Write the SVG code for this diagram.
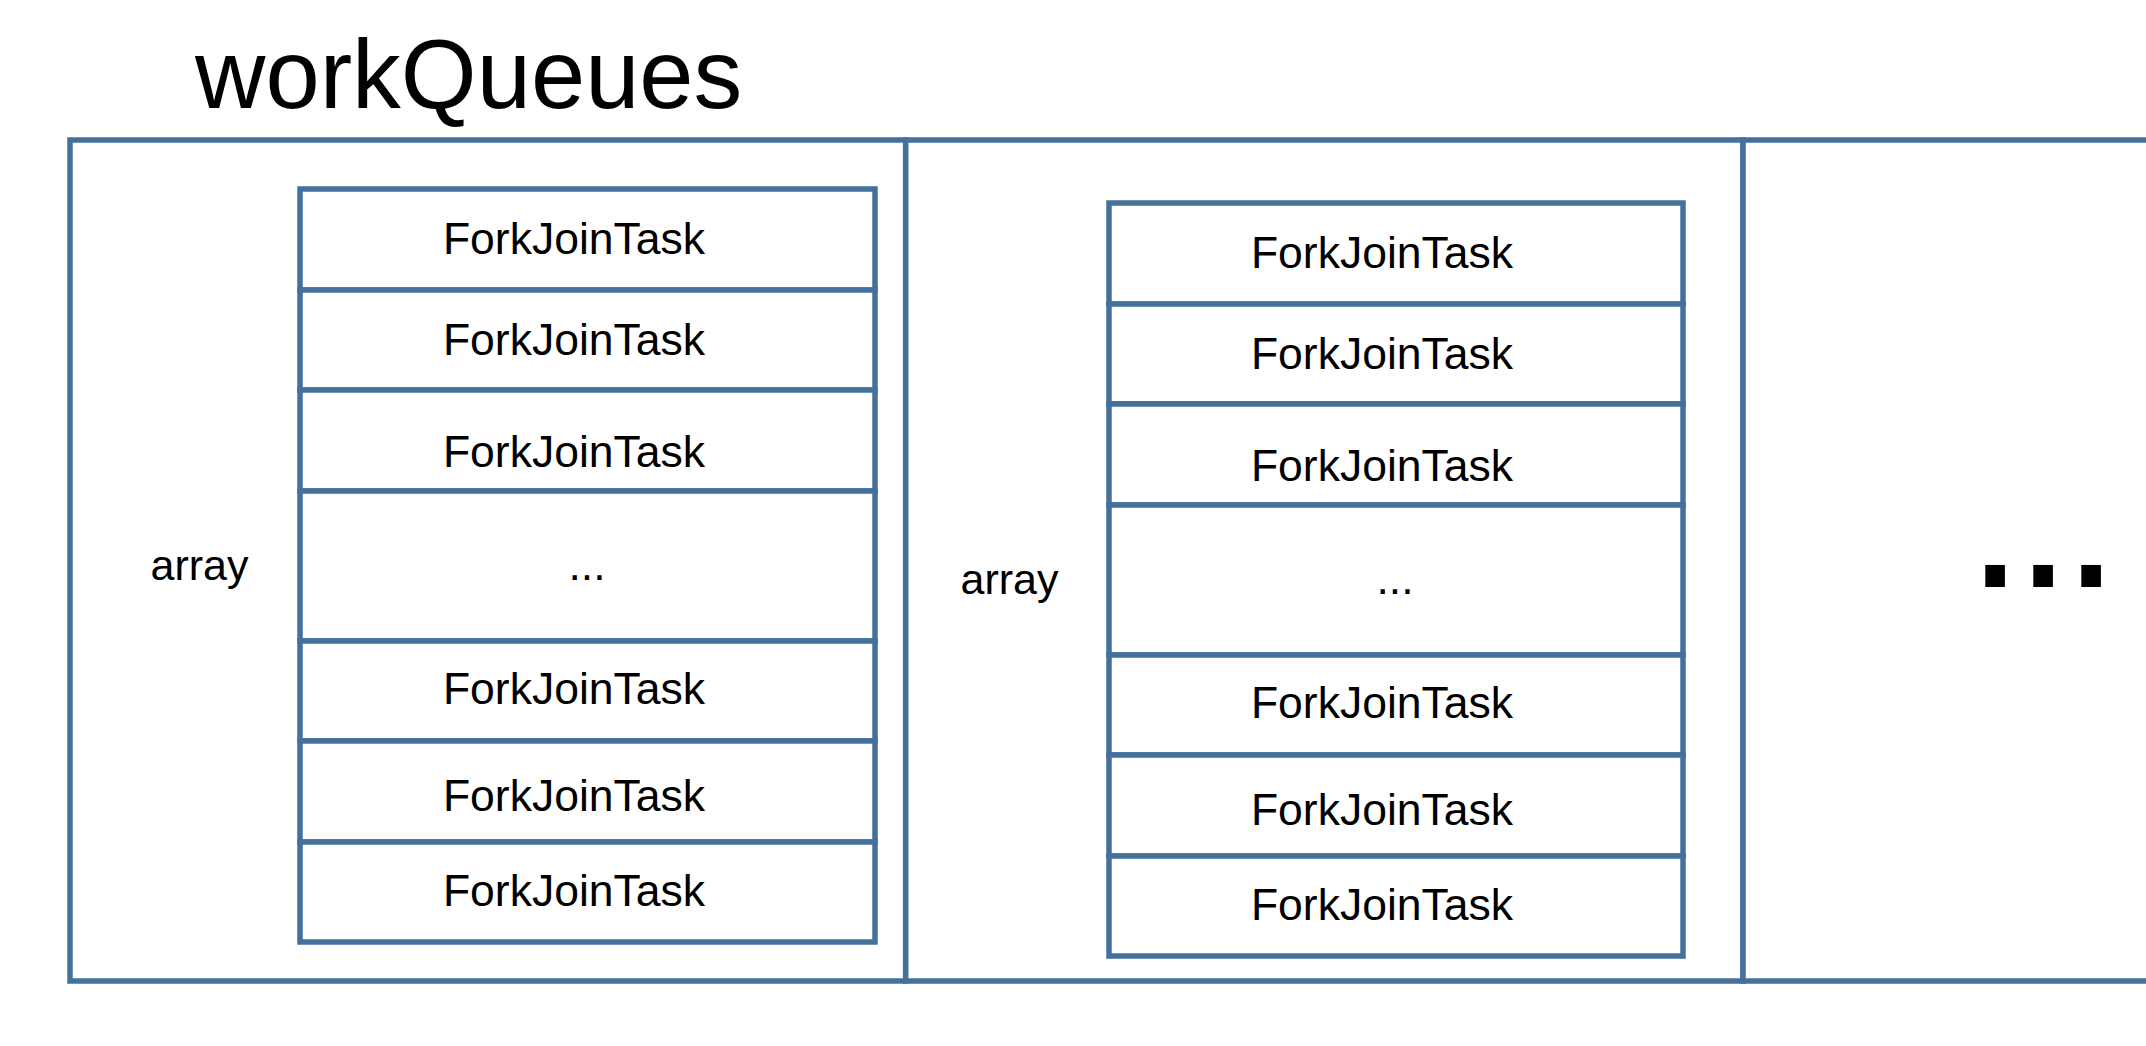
<svg xmlns="http://www.w3.org/2000/svg" width="2146" height="1046" viewBox="0 0 2146 1046">
<style>
.cell{fill:#fff;stroke:#43719c;stroke-width:5.5}
.row{fill:#fff;stroke:#43719c;stroke-width:5.5}
.t{font-family:"Liberation Sans",Arial,Helvetica,sans-serif;fill:#000}
.task{font-size:44.5px;text-anchor:middle}
.lbl{font-size:43px}
</style>
<rect width="2146" height="1046" fill="#fff"/>
<g id="title"><text class="t" x="195" y="108" font-size="97.5">workQueues</text></g>
<g id="queue1">
<rect class="cell" x="70" y="140" width="835.7" height="841"/>
<text class="t lbl" x="150.5" y="579.5">array</text>
</g>
<g id="queue2">
<rect class="cell" x="905.7" y="140" width="837.3" height="841"/>
<text class="t lbl" x="960.5" y="593.5">array</text>
</g>
<g id="queue3">
<rect class="cell" x="1743" y="140" width="420" height="841"/>
<text class="t" x="1966.6" y="587" font-size="206" letter-spacing="-9.3">...</text>
</g>
<g id="array1">
<g id="a1r1"><rect class="row" x="300" y="189" width="575" height="101"/><text class="t task" x="574" y="254">ForkJoinTask</text></g>
<g id="a1r2"><rect class="row" x="300" y="290" width="575" height="100"/><text class="t task" x="574" y="355.3">ForkJoinTask</text></g>
<g id="a1r3"><rect class="row" x="300" y="390" width="575" height="101"/><text class="t task" x="574" y="466.7">ForkJoinTask</text></g>
<g id="a1r4"><rect class="row" x="300" y="491" width="575" height="150"/><text class="t task" x="587" y="580.4">...</text></g>
<g id="a1r5"><rect class="row" x="300" y="641" width="575" height="100"/><text class="t task" x="574" y="704.3">ForkJoinTask</text></g>
<g id="a1r6"><rect class="row" x="300" y="741" width="575" height="101"/><text class="t task" x="574" y="811.4">ForkJoinTask</text></g>
<g id="a1r7"><rect class="row" x="300" y="842" width="575" height="100"/><text class="t task" x="574" y="906">ForkJoinTask</text></g>
</g>
<g id="array2">
<g id="a2r1"><rect class="row" x="1109" y="203" width="574" height="101"/><text class="t task" x="1382" y="267.7">ForkJoinTask</text></g>
<g id="a2r2"><rect class="row" x="1109" y="304" width="574" height="100"/><text class="t task" x="1382" y="369.3">ForkJoinTask</text></g>
<g id="a2r3"><rect class="row" x="1109" y="404" width="574" height="101"/><text class="t task" x="1382" y="480.7">ForkJoinTask</text></g>
<g id="a2r4"><rect class="row" x="1109" y="505" width="574" height="150"/><text class="t task" x="1395" y="594.4">...</text></g>
<g id="a2r5"><rect class="row" x="1109" y="655" width="574" height="100"/><text class="t task" x="1382" y="718.3">ForkJoinTask</text></g>
<g id="a2r6"><rect class="row" x="1109" y="755" width="574" height="101"/><text class="t task" x="1382" y="825">ForkJoinTask</text></g>
<g id="a2r7"><rect class="row" x="1109" y="856" width="574" height="100"/><text class="t task" x="1382" y="920">ForkJoinTask</text></g>
</g>
<g id="connectors"/>
</svg>
